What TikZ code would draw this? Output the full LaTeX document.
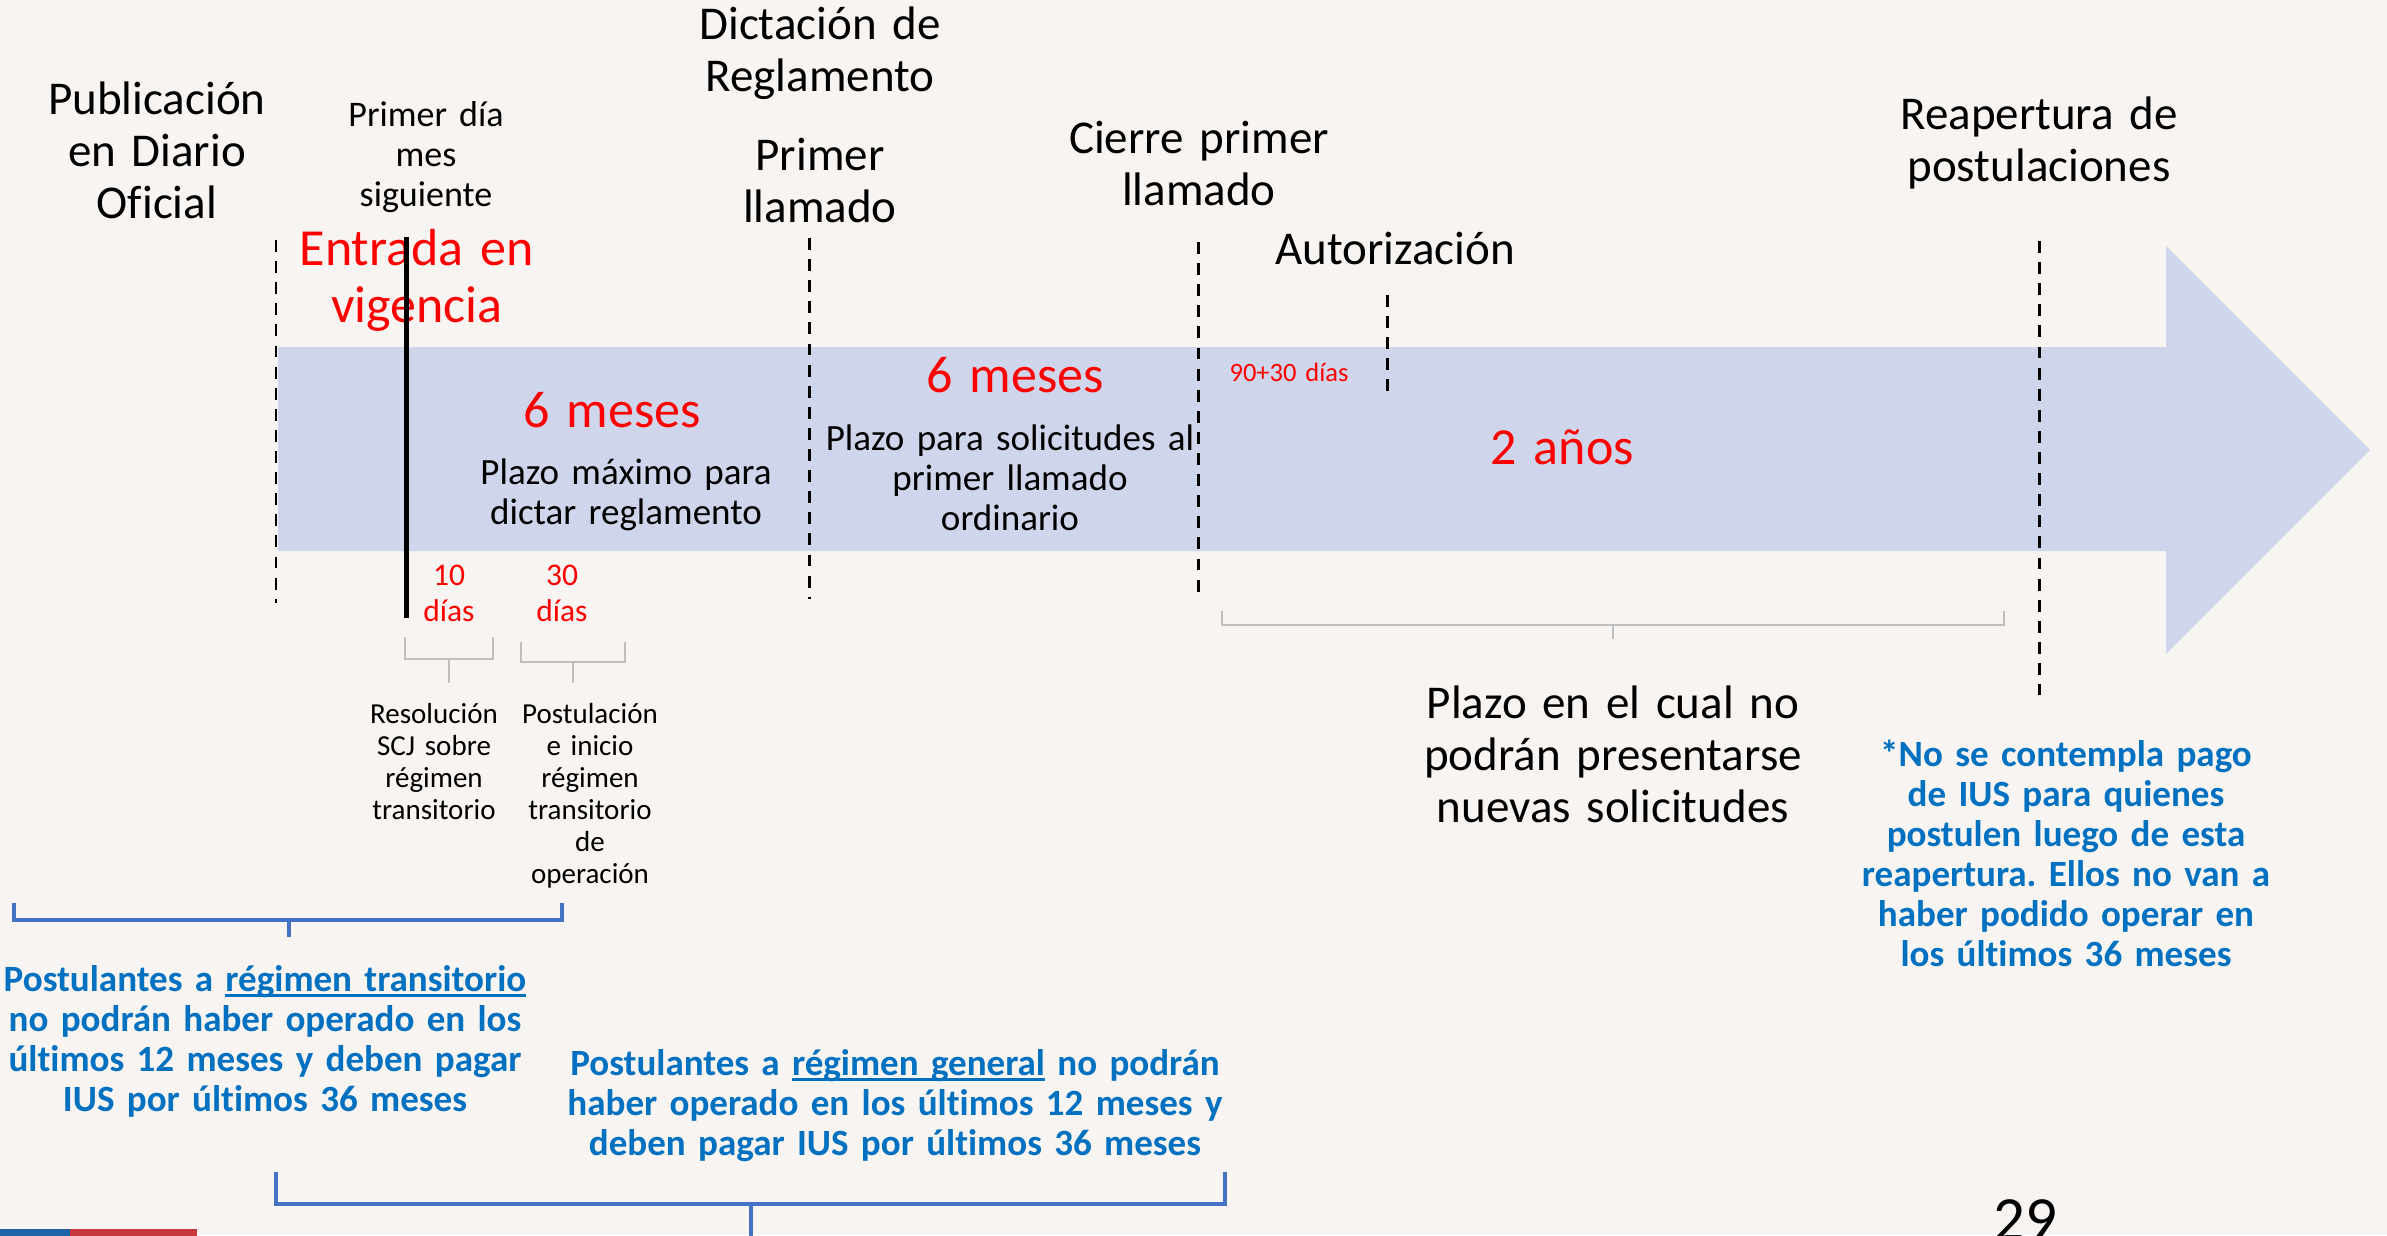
\documentclass[tikz,border=0pt]{standalone}
\usepackage{fontspec}
\setmainfont{Carlito}[Ligatures=CommonOff]
\frenchspacing
\definecolor{bgc}{HTML}{F7F4F1}
\definecolor{bandc}{HTML}{CFD5EA}
\definecolor{redc}{HTML}{FF0000}
\definecolor{bluetxt}{HTML}{0070C0}
\definecolor{bluebr}{HTML}{4472C4}
\definecolor{grayc}{HTML}{BFBFBF}
\definecolor{flagblue}{HTML}{1F63A8}
\definecolor{flagred}{HTML}{C8373C}
\newcommand\myul[1]{\setbox0\hbox{#1}\rlap{\rule[-0.15em]{\wd0}{0.06em}}\box0\relax}
\begin{document}
\begin{tikzpicture}[x=0.01cm,y=-0.01cm,
  lbl/.style={inner sep=0pt, anchor=base, align=center, text width=9cm},
  f47/.style={lbl, font=\fontsize{13.37pt}{14.8pt}\selectfont},
  f36/.style={lbl, font=\fontsize{10.24pt}{11.5pt}\selectfont},
  f52/.style={lbl, text=redc, font=\fontsize{14.8pt}{16.3pt}\selectfont},
  f37/.style={lbl, font=\fontsize{10.53pt}{11.38pt}\selectfont},
  f31/.style={lbl, text=redc, font=\fontsize{8.96pt}{10.5pt}\selectfont},
  f29/.style={lbl, font=\fontsize{8.25pt}{9.1pt}\selectfont},
  f26/.style={lbl, text=redc, font=\fontsize{7.54pt}{9pt}\selectfont},
  bl/.style={lbl, text=bluetxt, font=\fontsize{10.53pt}{11.4pt}\selectfont\bfseries},
  dline/.style={line width=0.85pt, dash pattern=on 3.4pt off 2.6pt},
  gbr/.style={draw=grayc, line width=0.6pt},
  bbr/.style={draw=bluebr, line width=1.15pt},
]
\fill[bgc] (0,0) rectangle (2387,1235);
\useasboundingbox (0,0) rectangle (2387,1235);
\clip (0,0) rectangle (2387,1235);

% timeline arrow
\fill[bandc] (278,347) -- (2166,347) -- (2166,246) -- (2370,450) -- (2166,654) -- (2166,551) -- (278,551) -- cycle;

% top labels
\node[f47] (pub) at (157,114) {Publicación\\en Diario\\Oficial};
\node[f36] (primer) at (426,126) {Primer día\\mes\\siguiente};
\node[f52] (entrada) at (417,265) {Entrada en\\vigencia};
\node[f47] (dict) at (820,39) {Dictación de\\Reglamento};
\node[f47] (primerll) at (820,170) {Primer\\llamado};
\node[f47] (cierre) at (1199,153) {Cierre primer\\llamado};
\node[f47] (autor) at (1395,264) {Autorización};
\node[f47] (reap) at (2039,129) {Reapertura de\\postulaciones};

% band labels
\node[f52] (m6a) at (612,427) {6 meses};
\node[f37] (plazo1) at (626,484) {Plazo máximo para\\dictar reglamento};
\node[f52] (m6b) at (1015,392) {6 meses};
\node[f37] (plazo2) at (1010,450) {Plazo para solicitudes al\\primer llamado\\ordinario};
\node[f26] (d9030) at (1289,381) {90+30 días};
\node[f52] (anos) at (1562,464) {2 años};

% small day labels
\node[f31] (d10) at (449,585) {10\\días};
\node[f31] (d30) at (562,585) {30\\días};
\node[f29] (resol) at (434,723) {Resolución\\SCJ sobre\\régimen\\transitorio};
\node[f29] (postu) at (590,723) {Postulación\\e inicio\\régimen\\transitorio\\de\\operación};
\node[f47] (plazo3) at (1613,718) {Plazo en el cual no\\podrán presentarse\\nuevas solicitudes};

% blue notes
\node[bl] (note) at (2066,766) {*No se contempla pago\\de IUS para quienes\\postulen luego de esta\\reapertura. Ellos no van a\\haber podido operar en\\los últimos 36 meses};
\node[bl] (blue1) at (265,991) {Postulantes a \myul{régimen transitorio}\\no podrán haber operado en los\\últimos 12 meses y deben pagar\\IUS por últimos 36 meses};
\node[bl] (blue2) at (895,1075) {Postulantes a \myul{régimen general} no podrán\\haber operado en los últimos 12 meses y\\deben pagar IUS por últimos 36 meses};

% dashed milestones
\draw[dline] (276,240) -- (276,603);
\draw[dline] (809,238) -- (809,599);
\draw[dline] (1198,242) -- (1198,599);
\draw[dline] (1387,295) -- (1387,400);
\draw[dline] (2039,241) -- (2039,695);
\draw[line width=1.42pt] (406,237) -- (406,618);

% gray brackets
\draw[gbr] (405,637) -- (405,659) -- (493,659) -- (493,637);
\draw[gbr] (449,659) -- (449,683);
\draw[gbr] (521,642) -- (521,662) -- (625,662) -- (625,642);
\draw[gbr] (573,662) -- (573,683);
\draw[gbr] (1222,611) -- (1222,625) -- (2004,625) -- (2004,611);
\draw[gbr] (1613,625) -- (1613,639);

% blue brackets
\draw[bbr] (14,903) -- (14,920) -- (562,920) -- (562,903);
\draw[bbr] (289,920) -- (289,937);
\draw[bbr] (276,1172) -- (276,1204) -- (1225,1204) -- (1225,1172);
\draw[bbr] (751,1204) -- (751,1240);

% footer
\fill[flagblue] (0,1229) rectangle (70,1240);
\fill[flagred] (70,1229) rectangle (197,1240);
\node[inner sep=0pt, anchor=base, font=\fontsize{17.9pt}{20pt}\selectfont] (pg) at (2025,1240) {29};
\end{tikzpicture}
\end{document}
